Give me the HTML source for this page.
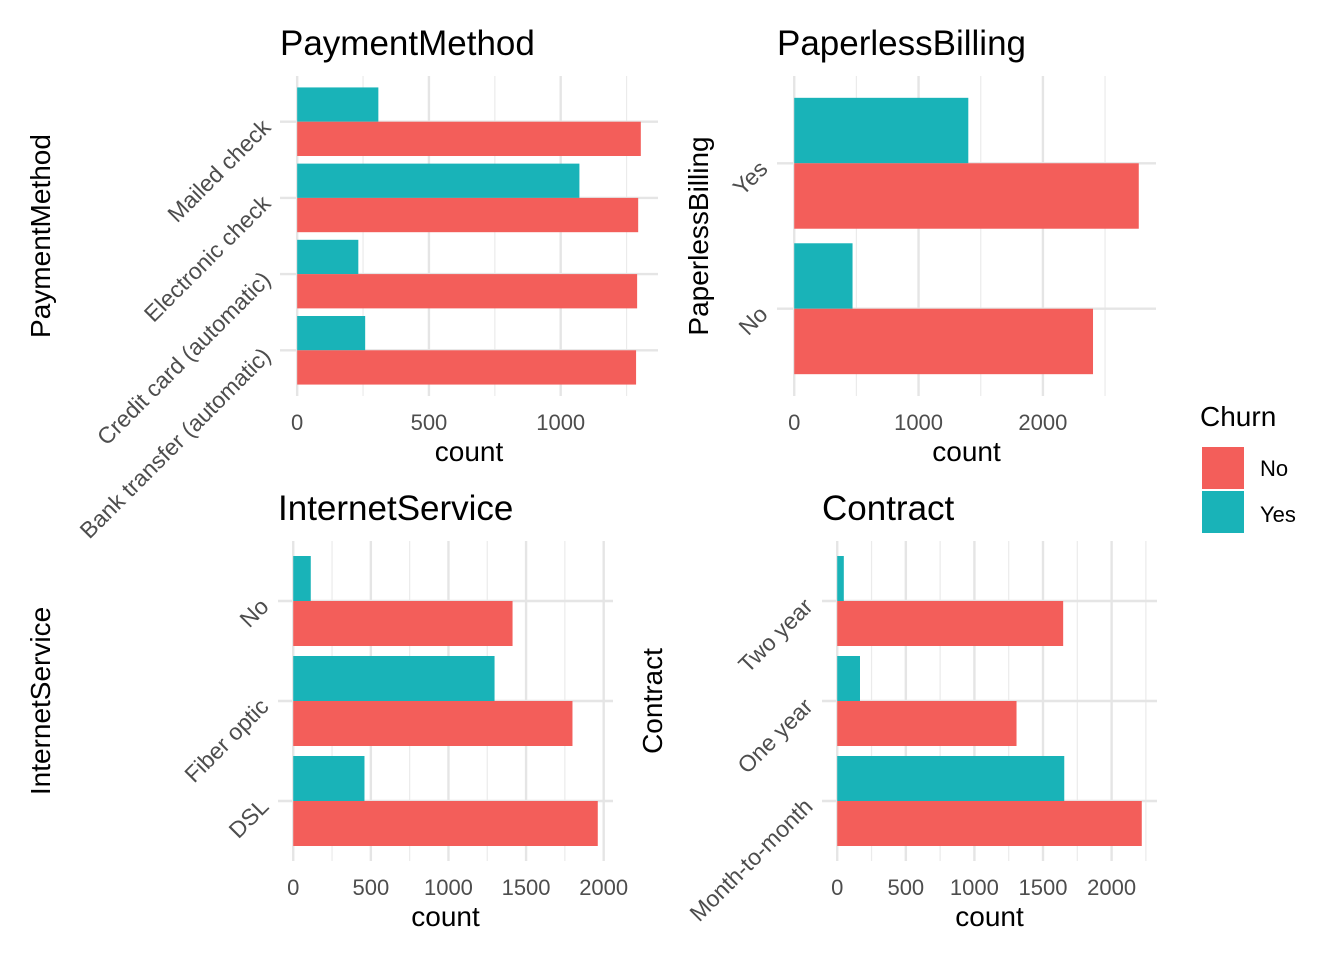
<!DOCTYPE html>
<html><head><meta charset="utf-8"><style>
html,body{margin:0;padding:0;background:#fff;}
svg{display:block;font-family:"Liberation Sans",Arial,sans-serif;}
</style></head><body>
<svg id="chart" width="1344" height="960" viewBox="0 0 1344 960" xmlns="http://www.w3.org/2000/svg">
<g id="legend">
<text x="1200" y="426" font-size="28" fill="#000">Churn</text>
<rect x="1202" y="447" width="42" height="42" fill="#F35E5A"/>
<rect x="1202" y="491" width="42" height="42" fill="#19B3B8"/>
<text x="1260" y="476" font-size="22" fill="#000">No</text>
<text x="1260" y="522" font-size="22" fill="#000">Yes</text>
</g>
</svg>
<script>
// Panel 1: PaymentMethod (bottom to top)
const payCats = ["Bank transfer (automatic)","Credit card (automatic)","Electronic check","Mailed check"];
const payNo = [1286,1290,1294,1304];
const payYes = [258,232,1071,308];
const payTicks = [0,500,1000];
const payMinor = [250,750,1250];
// Panel 2: PaperlessBilling
const paperCats = ["No","Yes"];
const paperNo = [2403,2771];
const paperYes = [469,1400];
const paperTicks = [0,1000,2000];
const paperMinor = [500,1500,2500];
// Panel 3: InternetService
const netCats = ["DSL","Fiber optic","No"];
const netNo = [1962,1799,1413];
const netYes = [459,1297,113];
const netTicks = [0,500,1000,1500,2000];
const netMinor = [250,750,1250,1750];
// Panel 4: Contract
const conCats = ["Month-to-month","One year","Two year"];
const conNo = [2220,1307,1647];
const conYes = [1655,166,48];
const conTicks = [0,500,1000,1500,2000];
const conMinor = [250,750,1250,1750,2250];

const NS="http://www.w3.org/2000/svg";
const svg=document.getElementById('chart');
function mk(tag,attrs,parent){const e=document.createElementNS(NS,tag);for(const k in attrs)e.setAttribute(k,attrs[k]);parent.appendChild(e);return e;}

function panel(o){
  const g=mk('g',{},svg);
  
  
  const maxV=Math.max(...o.no,...o.yes);
  const lo=-0.05*maxV, hi=maxV*1.05;
  const x=v=>o.left+(v-lo)/(hi-lo)*(o.right-o.left);
  const n=o.cats.length;
  const y=i=>o.bottom-(i+1-0.4)/(n+0.2)*(o.bottom-o.top);
  const step=(o.bottom-o.top)/(n+0.2);
  o.minor.forEach(v=>{const l=mk('line',{x1:x(v),x2:x(v),y1:o.top,y2:o.bottom,stroke:'#ebebeb','stroke-width':1.2},g);
    
    });
  o.ticks.forEach(v=>{const l=mk('line',{x1:x(v),x2:x(v),y1:o.top,y2:o.bottom,stroke:'#e5e5e5','stroke-width':2.4},g);
    
    });
  o.cats.forEach((c,i)=>{const l=mk('line',{x1:o.left,x2:o.right,y1:y(i),y2:y(i),stroke:'#e5e5e5','stroke-width':2.4},g);
    
    });
  const bw=step*0.9/2;
  o.cats.forEach((c,i)=>{
    const r1=mk('rect',{x:x(0),y:y(i)-bw,width:x(o.yes[i])-x(0),height:bw,fill:'#19B3B8'},g);
    
    
    const r2=mk('rect',{x:x(0),y:y(i),width:x(o.no[i])-x(0),height:bw,fill:'#F35E5A'},g);
    
    
    const ex=o.left-8, ey=y(i)+7;
    const t=mk('text',{x:ex,y:ey,'font-size':23,fill:'#4d4d4d','text-anchor':'end',transform:`rotate(-45 ${ex} ${ey})`},g);
    t.textContent=c;
    
    
  });
  o.ticks.forEach(v=>{const t=mk('text',{x:x(v),y:o.bottom+34,'font-size':22,fill:'#4d4d4d','text-anchor':'middle'},g);
    t.textContent=v;
    
    });
  const xt=mk('text',{x:(o.left+o.right)/2,y:o.bottom+65,'font-size':28,fill:'#000','text-anchor':'middle'},g);
  xt.textContent='count';
  
  
  const ty=(o.top+o.bottom)/2;
  const yt=mk('text',{x:o.ytx,y:ty,'font-size':28,fill:'#000','text-anchor':'middle',transform:`rotate(-90 ${o.ytx} ${ty})`},g);
  yt.textContent=o.title;
  
  
  const tt=mk('text',{x:o.left,y:o.top-21,'font-size':35,fill:'#000'},g);
  tt.textContent=o.title;
  
  
}
panel({name:'payment-method',title:'PaymentMethod',cats:payCats,no:payNo,yes:payYes,ticks:payTicks,minor:payMinor,left:280,right:658,top:76,bottom:396,ytx:50});
panel({name:'paperless-billing',title:'PaperlessBilling',cats:paperCats,no:paperNo,yes:paperYes,ticks:paperTicks,minor:paperMinor,left:777,right:1156,top:76,bottom:396,ytx:708});
panel({name:'internet-service',title:'InternetService',cats:netCats,no:netNo,yes:netYes,ticks:netTicks,minor:netMinor,left:278,right:613,top:541,bottom:861,ytx:50});
panel({name:'contract',title:'Contract',cats:conCats,no:conNo,yes:conYes,ticks:conTicks,minor:conMinor,left:822,right:1157,top:541,bottom:861,ytx:662});
</script>
</body></html>
